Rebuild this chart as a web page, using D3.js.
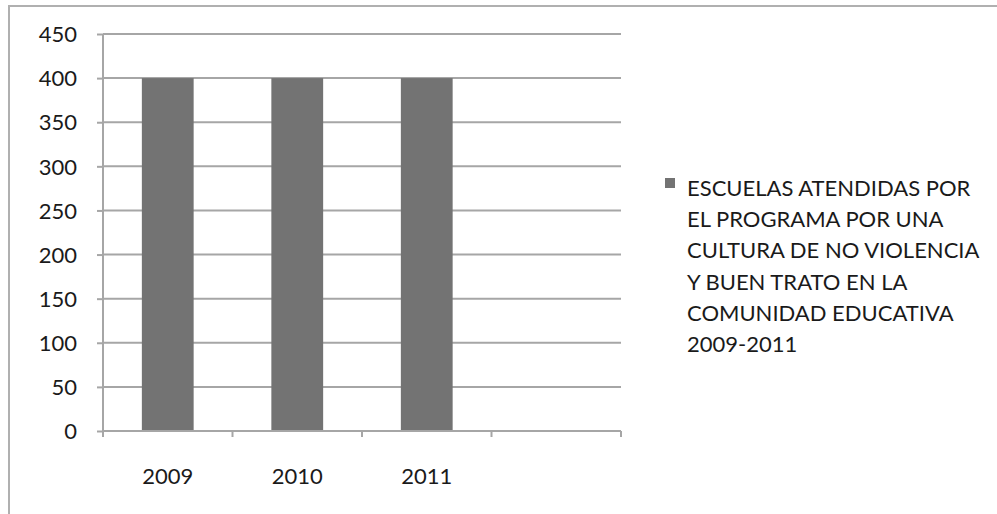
<!DOCTYPE html>
<html><head><meta charset="utf-8">
<script src="https://cdn.jsdelivr.net/npm/d3@7"></script>
<style>body{margin:0;background:#fff}svg{display:block}</style>
</head><body>
<svg id="c" width="997" height="514"></svg>
<script>
const categories = ["2009", "2010", "2011", ""];
const values = [400, 400, 400, null];
const yTicks = [0, 50, 100, 150, 200, 250, 300, 350, 400, 450];
const seriesName = ["ESCUELAS ATENDIDAS POR", "EL PROGRAMA POR UNA", "CULTURA DE NO VIOLENCIA", "Y BUEN TRATO EN LA", "COMUNIDAD EDUCATIVA", "2009-2011"];

(function () {
const font = "Lato, 'Open Sans', sans-serif";
const svg = d3.select("#c");
const pL = 103, pR = 621, pT = 34, pB = 431;
const gridColor = "#a6a6a6";

// outer border
svg.append("path").attr("d", "M9,514 V6 H997").attr("fill", "none").attr("stroke", "#b0b0b0").attr("stroke-width", 2);

const x = d3.scaleBand().domain(categories).range([pL, pR]).padding(0);
const y = d3.scaleLinear().domain([0, 450]).range([pB, pT]);

// gridlines
svg.append("g").selectAll("line").data(yTicks.filter(d => d > 0)).join("line")
  .attr("x1", pL).attr("x2", pR).attr("y1", d => y(d)).attr("y2", d => y(d))
  .attr("stroke", gridColor).attr("stroke-width", 2);

// bars
const bw = x.bandwidth() * 0.4;
svg.append("g").selectAll("rect").data(categories.map((c, i) => ({c, v: values[i]})).filter(d => d.v != null)).join("rect")
  .attr("x", d => x(d.c) + (x.bandwidth() - bw) / 2)
  .attr("width", bw)
  .attr("y", d => y(d.v))
  .attr("height", d => y(0) - y(d.v))
  .attr("fill", "#737373");

// y axis
const yAxis = svg.append("g").attr("transform", `translate(${pL},0)`)
  .call(d3.axisLeft(y).tickValues(yTicks).tickSize(6).tickPadding(20));
yAxis.select(".domain").attr("stroke", gridColor).attr("stroke-width", 2).attr("d", `M0,${pT}V${pB}`);
yAxis.selectAll(".tick line").attr("stroke", gridColor).attr("stroke-width", 2);
yAxis.selectAll(".tick text").attr("font-family", font).attr("font-size", 22).attr("fill", "#1a1a1a").attr("dy", "0.35em");

// x axis
const xAxis = svg.append("g").attr("transform", `translate(0,${pB})`)
  .call(d3.axisBottom(x).tickSize(0).tickPadding(0));
xAxis.select(".domain").remove();
svg.append("line").attr("x1", pL).attr("x2", pR).attr("y1", pB).attr("y2", pB)
  .attr("stroke", gridColor).attr("stroke-width", 2);
const bounds = categories.map(c => x(c)).concat([x(categories[categories.length - 1]) + x.bandwidth()]);
svg.append("g").selectAll("line").data(bounds).join("line")
  .attr("x1", d => d).attr("x2", d => d).attr("y1", pB).attr("y2", pB + 6)
  .attr("stroke", gridColor).attr("stroke-width", 2);
xAxis.selectAll(".tick text").attr("font-family", font).attr("font-size", 22).attr("fill", "#1a1a1a")
  .attr("y", 53).attr("dy", 0);

// legend
const lg = svg.append("g");
lg.append("rect").attr("x", 665).attr("y", 178).attr("width", 10).attr("height", 10).attr("fill", "#737373");
lg.append("text").attr("font-family", font).attr("font-size", 22).attr("fill", "#1a1a1a")
  .selectAll("tspan").data(seriesName).join("tspan")
  .attr("x", 687).attr("y", (d, i) => 196 + i * 31.2).text(d => d);
})();
</script>
</body></html>
